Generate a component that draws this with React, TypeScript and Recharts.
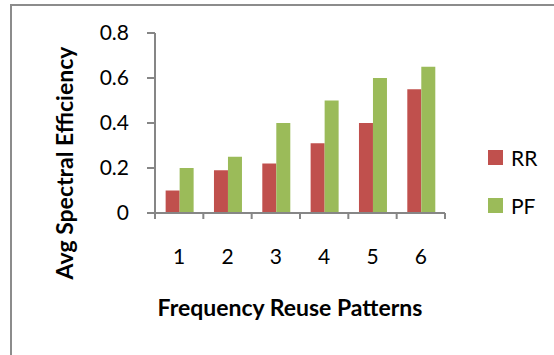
import { BarChart, Bar, XAxis, YAxis, Legend, Label } from "recharts";

const patterns = ["1", "2", "3", "4", "5", "6"];
const rrValues = [0.1, 0.19, 0.22, 0.31, 0.4, 0.55];
const pfValues = [0.2, 0.25, 0.4, 0.5, 0.6, 0.65];
const yTicks = [0, 0.2, 0.4, 0.6, 0.8];

const series = [
  { key: "RR", color: "#C0504D" },
  { key: "PF", color: "#9BBB59" },
];

const data = patterns.map((p, i) => ({ pattern: p, RR: rrValues[i], PF: pfValues[i] }));

const FONT = "Lato, 'Liberation Sans', sans-serif";
const AXIS = "#868686";

// Excel-style ticks: marks sit on the category boundaries, label in the middle
function PatternTick(props: any) {
  const { x, y, payload, index, visibleTicksCount, width } = props;
  const step = width / visibleTicksCount;
  const left = x - step / 2;
  return (
    <g>
      <line x1={left} y1={y} x2={left} y2={y + 6} stroke={AXIS} strokeWidth={2} />
      {index === visibleTicksCount - 1 && (
        <line x1={left + step} y1={y} x2={left + step} y2={y + 6} stroke={AXIS} strokeWidth={2} />
      )}
      <text x={x} y={y + 51} textAnchor="middle" fontSize={21} fill="#000" fontFamily={FONT}>
        {payload.value}
      </text>
    </g>
  );
}

function YTitle(props: any) {
  const { viewBox } = props;
  const cx = viewBox.x + 64;
  const cy = viewBox.y + viewBox.height / 2 + 40;
  return (
    <text
      x={cx}
      y={cy}
      transform={`rotate(-90, ${cx}, ${cy})`}
      textAnchor="middle"
      dominantBaseline="central"
      fontSize={23}
      fontWeight="bold"
      fontFamily={FONT}
      fill="#000"
    >
      Avg Spectral Efficiency
    </text>
  );
}

function renderLegend() {
  return (
    <div style={{ fontFamily: FONT, fontSize: 21, color: "#000" }}>
      {series.map((s) => (
        <div key={s.key} style={{ display: "flex", alignItems: "center", height: 48 }}>
          <span style={{ width: 15, height: 15, background: s.color, marginRight: 8 }} />
          <span>{s.key}</span>
        </div>
      ))}
    </div>
  );
}

export default function App() {
  return (
    <div
      style={{
        position: "absolute",
        left: 0,
        top: 0,
        width: 554,
        height: 355,
        overflow: "hidden",
        background: "#fff",
      }}
    >
      <div
        style={{
          position: "absolute",
          left: 10,
          top: 4,
          width: 600,
          height: 400,
          border: "2px solid #8c8c8c",
        }}
      />
      <div style={{ position: "absolute", left: 0, top: 0 }}>
        <BarChart
          width={554}
          height={355}
          data={data}
          margin={{ top: 33, right: 109, bottom: 0, left: 0 }}
          barCategoryGap="22%"
          barGap={0}
        >
          <XAxis
            dataKey="pattern"
            height={142}
            axisLine={{ stroke: AXIS, strokeWidth: 2 }}
            tickLine={false}
            tickSize={0}
            tickMargin={0}
            tick={<PatternTick />}
            interval={0}
          >
            <Label
              value="Frequency Reuse Patterns"
              position="insideBottom"
              offset={39}
              dx={-10}
              fontSize={23}
              fontWeight="bold"
              fontFamily={FONT}
              fill="#000"
            />
          </XAxis>
          <YAxis
            width={155}
            domain={[0, 0.8]}
            ticks={yTicks}
            axisLine={{ stroke: AXIS, strokeWidth: 2 }}
            tickLine={{ stroke: AXIS, strokeWidth: 2 }}
            tickSize={8}
            tickMargin={18}
            tick={{ fontSize: 21, fill: "#000", fontFamily: FONT }}
          >
            <Label content={<YTitle />} position="insideLeft" />
          </YAxis>
          <Legend
            layout="vertical"
            align="center"
            verticalAlign="middle"
            content={renderLegend}
            wrapperStyle={{ left: 488, top: 133, width: 60 }}
          />
          {series.map((s) => (
            <Bar key={s.key} dataKey={s.key} fill={s.color} isAnimationActive={false} />
          ))}
        </BarChart>
      </div>
    </div>
  );
}
